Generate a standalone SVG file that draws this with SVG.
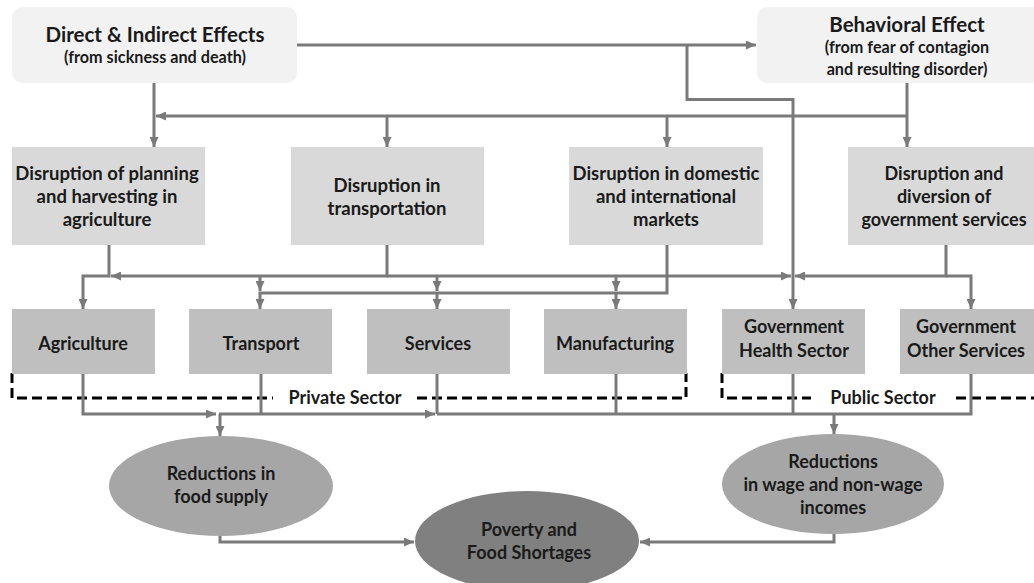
<svg xmlns="http://www.w3.org/2000/svg" width="1034" height="583" viewBox="0 0 1034 583">
  <style>
    text { font-family: Lato, "Liberation Sans", sans-serif; font-weight: 700; fill: #1a1a1a; text-anchor: middle; }
    .title { font-size: 20.5px; }
    .sub { font-size: 16.2px; }
    .body { font-size: 18px; }
    .wide { font-size: 18.5px; }
    .cause { fill: #f2f2f2; }
    .disrupt { fill: #d9d9d9; }
    .sector { fill: #bfbfbf; }
    .outcome { fill: #a6a6a6; }
    .final { fill: #808080; }
    .conn path { fill: none; stroke: #7a7a7a; stroke-width: 3; }
    .arrow { marker-end: url(#arr); }
    .group-line { fill: none; stroke: #000; stroke-width: 3; stroke-dasharray: 10 5; }
  </style>
  <defs>
    <marker id="arr" viewBox="0 0 10 9" refX="10" refY="4.5" markerWidth="10" markerHeight="9" markerUnits="userSpaceOnUse" orient="auto">
      <path d="M0,0 L10,4.5 L0,9 z" fill="#7a7a7a"/>
    </marker>
  </defs>

  <rect width="1034" height="583" fill="#ffffff"/>

  <!-- Sector groupings (dashed) -->
  <g id="sector-groups">
    <path class="group-line" d="M12,373 V398 H273"/>
    <path class="group-line" d="M417,398 H686 V373"/>
    <path class="group-line" d="M722,373 V398 H811"/>
    <path class="group-line" d="M956,398 H1040"/>
    <text class="body" x="345" y="404">Private Sector</text>
    <text class="body" x="883" y="404">Public Sector</text>
  </g>

  <!-- Connectors -->
  <g id="connectors" class="conn">
    <path class="arrow" d="M297,45 H756"/>
    <path class="arrow" d="M687,45 V99.5 H793 V309"/>
    <path class="arrow" d="M154,83 V147"/>
    <path class="arrow" d="M907,83 V147"/>
    <path class="arrow" d="M907,116 H156"/>
    <path class="arrow" d="M387,116 V147"/>
    <path class="arrow" d="M667,116 V147"/>

    <path class="arrow" d="M109,245 V276 H83 V309"/>
    <path class="arrow" d="M387,245 V276 H111"/>
    <path class="arrow" d="M387,276 H791"/>
    <path class="arrow" d="M946,245 V276 H795"/>
    <path class="arrow" d="M946,276 H971 V309"/>
    <path class="arrow" d="M260,276 V291"/>
    <path class="arrow" d="M437,276 V291"/>
    <path class="arrow" d="M616,276 V291"/>
    <path class="arrow" d="M667,245 V293 H260 V309"/>
    <path class="arrow" d="M437,293 V309"/>
    <path class="arrow" d="M616,293 V309"/>

    <path class="arrow" d="M83,374 V414 H216"/>
    <path class="arrow" d="M219,414 H435"/>
    <path class="arrow" d="M220,414 V436"/>
    <path d="M261,374 V414"/>
    <path d="M437,374 V414"/>
    <path d="M616,374 V414"/>
    <path d="M793,374 V414"/>
    <path d="M971,374 V414 H437"/>
    <path class="arrow" d="M834,414 V434"/>

    <path class="arrow" d="M220,536 V542 H414"/>
    <path class="arrow" d="M834,534 V542 H640"/>
  </g>

  <!-- Root causes -->
  <g id="direct-effects">
    <rect class="cause" x="12" y="7" width="285" height="76" rx="10"/>
    <text class="title" x="155" y="42">Direct &amp; Indirect Effects</text>
    <text class="sub" x="155" y="63">(from sickness and death)</text>
  </g>
  <g id="behavioral-effect">
    <rect class="cause" x="757" y="7" width="300" height="76" rx="10"/>
    <text class="title" x="907" y="32">Behavioral Effect</text>
    <text class="sub" x="907" y="53">(from fear of contagion</text>
    <text class="sub" x="907" y="75">and resulting disorder)</text>
  </g>

  <!-- Disruptions -->
  <g id="disruption-agriculture">
    <rect class="disrupt" x="12" y="147" width="193" height="98"/>
    <text class="wide" x="107" y="180">Disruption of planning</text>
    <text class="wide" x="107" y="203">and harvesting in</text>
    <text class="wide" x="107" y="226">agriculture</text>
  </g>
  <g id="disruption-transport">
    <rect class="disrupt" x="291" y="147" width="193" height="98"/>
    <text class="wide" x="387" y="192">Disruption in</text>
    <text class="wide" x="387" y="215">transportation</text>
  </g>
  <g id="disruption-markets">
    <rect class="disrupt" x="569" y="147" width="194" height="98"/>
    <text class="wide" x="666" y="180">Disruption in domestic</text>
    <text class="wide" x="666" y="203">and international</text>
    <text class="wide" x="666" y="226">markets</text>
  </g>
  <g id="disruption-government">
    <rect class="disrupt" x="848" y="147" width="193" height="98"/>
    <text class="body" x="944" y="180">Disruption and</text>
    <text class="body" x="944" y="203">diversion of</text>
    <text class="body" x="944" y="226">government services</text>
  </g>

  <!-- Sectors -->
  <g id="agriculture">
    <rect class="sector" x="12" y="309" width="143" height="65"/>
    <text class="body" x="83" y="350">Agriculture</text>
  </g>
  <g id="transport">
    <rect class="sector" x="189" y="309" width="143" height="65"/>
    <text class="body" x="261" y="350">Transport</text>
  </g>
  <g id="services">
    <rect class="sector" x="367" y="309" width="143" height="65"/>
    <text class="body" x="438" y="350">Services</text>
  </g>
  <g id="manufacturing">
    <rect class="sector" x="544" y="309" width="143" height="65"/>
    <text class="body" x="615" y="350">Manufacturing</text>
  </g>
  <g id="gov-health">
    <rect class="sector" x="722" y="309" width="143" height="65"/>
    <text class="body" x="794" y="333">Government</text>
    <text class="body" x="794" y="357">Health Sector</text>
  </g>
  <g id="gov-other">
    <rect class="sector" x="900" y="309" width="143" height="65"/>
    <text class="body" x="966" y="333">Government</text>
    <text class="body" x="966" y="357">Other Services</text>
  </g>

  <!-- Outcomes -->
  <g id="food-supply">
    <ellipse class="outcome" cx="221" cy="486" rx="112" ry="50"/>
    <text class="body" x="221" y="480">Reductions in</text>
    <text class="body" x="221" y="503">food supply</text>
  </g>
  <g id="incomes">
    <ellipse class="outcome" cx="833" cy="484" rx="111" ry="50"/>
    <text class="body" x="833" y="468">Reductions</text>
    <text class="body" x="833" y="491">in wage and non-wage</text>
    <text class="body" x="833" y="514">incomes</text>
  </g>
  <g id="poverty">
    <ellipse class="final" cx="527" cy="541" rx="112" ry="50"/>
    <text class="body" x="529" y="536">Poverty and</text>
    <text class="body" x="529" y="559">Food Shortages</text>
  </g>
</svg>
